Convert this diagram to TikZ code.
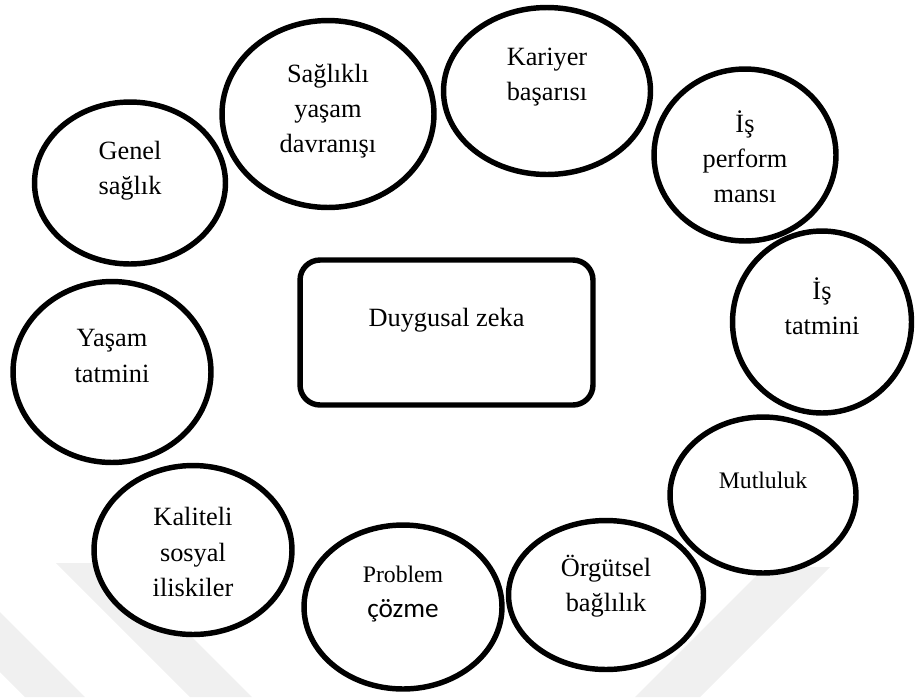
\documentclass[tikz,border=0pt]{standalone}
\usepackage{fontspec}
\setmainfont{Liberation Serif}
\newfontfamily\calibfont{Carlito}
\usepackage{xcolor}
\usepackage{tikz}
\usetikzlibrary{shapes.geometric}
\definecolor{ink}{HTML}{000000}
\definecolor{wmark}{HTML}{F0F0F0}
\tikzset{
  bubble/.style={ellipse, draw=ink, fill=white, line width=3.1pt, inner sep=0pt},
  hub/.style={rectangle, rounded corners=0.4cm, draw=ink, fill=white, line width=3.1pt, inner sep=0pt},
  lab/.style={text=ink, align=center, font=\fontsize{15}{20}\selectfont},
  labs/.style={text=ink, align=center, font=\fontsize{13.5}{18.5}\selectfont}
}

\begin{document}
\begin{tikzpicture}[x=0.02cm, y=-0.02cm]
  \useasboundingbox (0,0) rectangle (915,697);
  % faint watermark
  \fill[wmark] (56,563) -- (118,563) -- (252,697) -- (190,697) -- cycle;
  \fill[wmark] (0,612) -- (85,697) -- (25,697) -- (0,672) -- cycle;
  \fill[wmark] (765,567) -- (830,567) -- (700,697) -- (635,697) -- cycle;
  % centre
  \node[hub, minimum width=5.86cm, minimum height=2.9cm] (dz) at (446.5,332.5) {};
  \node[lab] (dzT) at ([yshift=0.24cm]dz.center) {Duygusal zeka};
  % bubbles
  \node[bubble, minimum width=3.82cm, minimum height=3.24cm] (gen) at (130,183) {};
  \node[bubble, minimum width=4.24cm, minimum height=3.74cm] (sag) at (328,114) {};
  \node[bubble, minimum width=4.14cm, minimum height=3.34cm] (kar) at (547,91) {};
  \node[bubble, minimum width=3.64cm, minimum height=3.44cm] (isp) at (745,155) {};
  \node[bubble, minimum width=3.58cm, minimum height=3.64cm] (ist) at (822,322) {};
  \node[bubble, minimum width=3.72cm, minimum height=3.12cm] (mut) at (763,495) {};
  \node[bubble, minimum width=3.90cm, minimum height=2.98cm] (org) at (606,595) {};
  \node[bubble, minimum width=3.96cm, minimum height=3.28cm] (pro) at (403,607) {};
  \node[bubble, minimum width=3.96cm, minimum height=3.38cm] (kal) at (193,550) {};
  \node[bubble, minimum width=3.96cm, minimum height=3.62cm] (yas) at (112,372) {};
  % texts
  \node[lab] (genT) at ([yshift=0.24cm]gen.center) {Genel\\sağlık};
  \node[lab] (sagT) at ([yshift=0.06cm]sag.center) {Sağlıklı\\yaşam\\davranışı};
  \node[lab] (karT) at ([yshift=0.28cm]kar.center) {Kariyer\\başarısı};
  \node[lab] (ispT) at ([yshift=-0.04cm]isp.center) {İş\\perform\\mansı};
  \node[lab] (istT) at ([yshift=0.32cm]ist.center) {İş\\tatmini};
  \node[labs] (mutT) at ([yshift=0.30cm]mut.center) {Mutluluk};
  \node[lab] (orgT) at ([yshift=0.18cm]org.center) {Örgütsel\\bağlılık};
  \node[labs] (proT) at ([yshift=0.26cm]pro.center) {Problem\\[1pt]{\calibfont\fontsize{15.5}{18}\selectfont çözme}};
  \node[lab] (kalT) at ([yshift=-0.04cm]kal.center) {Kaliteli\\sosyal\\iliskiler};
  \node[lab] (yasT) at ([yshift=0.32cm]yas.center) {Yaşam\\tatmini};
\end{tikzpicture}
\end{document}
